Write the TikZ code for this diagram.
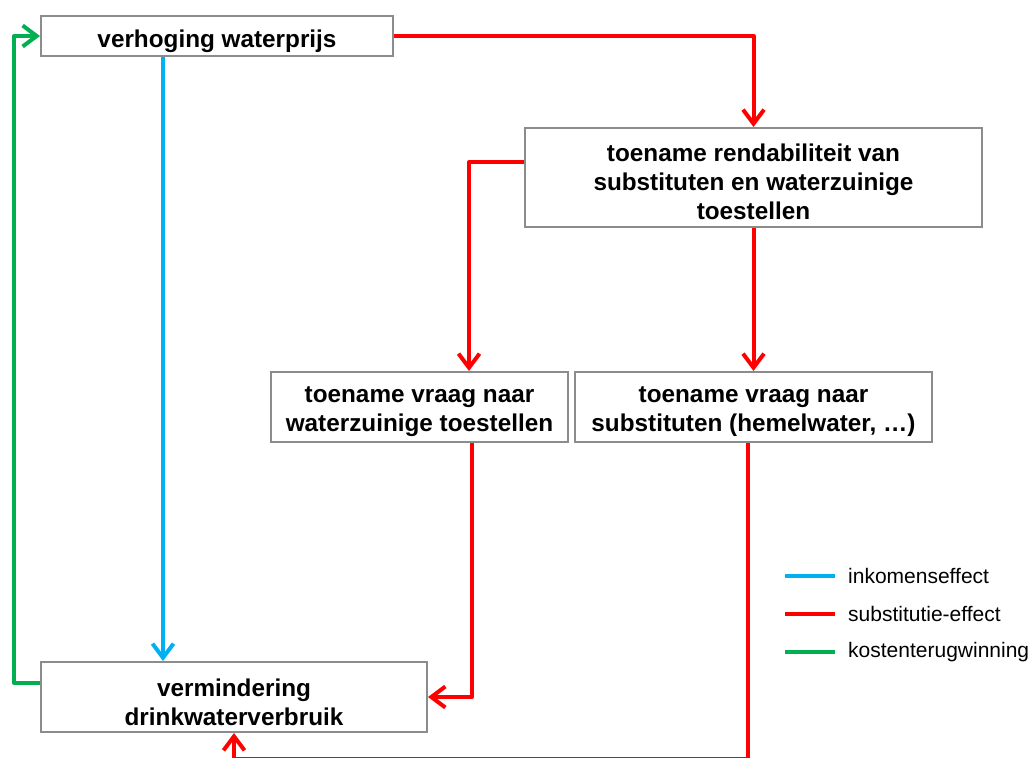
\documentclass[tikz,border=0pt]{standalone}
\usepackage{fontspec}
\setmainfont{Liberation Sans}
\usetikzlibrary{arrows.meta,calc}
\definecolor{effred}{RGB}{255,0,0}
\definecolor{effblue}{RGB}{0,176,240}
\definecolor{effgreen}{RGB}{0,176,80}
\definecolor{boxgray}{RGB}{140,140,140}
\tikzset{
  box/.style={draw=boxgray, line width=2pt, fill=white, inner sep=0pt},
  boxtxt/.style={align=center, inner sep=0pt,
    font=\fontsize{24.3}{29}\selectfont\bfseries},
  conn/.style={line width=4pt, line join=round,
    -{Straight Barb[length=14pt,width=21pt,line width=4pt]}},
  plain/.style={line width=4pt, line join=round},
  legtext/.style={anchor=west, inner sep=0pt, font=\fontsize{21}{25}\selectfont},
}
\begin{document}
\begin{tikzpicture}[x=1pt,y=-1pt]
\useasboundingbox (0,0) rectangle (1029,758);
\node[box, minimum width=352pt, minimum height=40pt] (b1) at (217,36) {};
\node[box, minimum width=457pt, minimum height=99pt] (b2) at (753.5,177.5) {};
\node[box, minimum width=297pt, minimum height=70pt] (b3) at (419.5,407) {};
\node[box, minimum width=357pt, minimum height=70pt] (b4) at (753.5,407) {};
\node[box, minimum width=386pt, minimum height=70pt] (b5) at (234,697) {};

\node[boxtxt] (b1t) at ($(b1.center)+(0,5)$) {verhoging waterprijs};
\node[boxtxt] (b2t) at ($(b2.center)+(0,4)$) {toename rendabiliteit van\\substituten en waterzuinige\\toestellen};
\node[boxtxt] (b3t) at ($(b3.center)+(0,5)$) {toename vraag naar\\waterzuinige toestellen};
\node[boxtxt] (b4t) at ($(b4.center)+(0,5)$) {toename vraag naar\\substituten (hemelwater, …)};
\node[boxtxt] (b5t) at ($(b5.center)+(0,5)$) {vermindering\\drinkwaterverbruik};

\coordinate (gc) at (14,36);
\coordinate (botc) at (234,759);

% red: substitution effect
\draw[conn, effred] (b1.east) -| (b2.north);
\draw[conn, effred] ([yshift=15.5pt]b2.west) -| ([xshift=49.5pt]b3.north);
\draw[conn, effred] (b2.south) -- (b4.north);
\draw[conn, effred] ([xshift=52.5pt]b3.south) |- (b5.east);
\draw[conn, effred] ([xshift=-5.5pt]b4.south) |- (botc) -- (b5.south);
% blue: income effect
\draw[conn, effblue] ([xshift=-54pt]b1.south) -- ([xshift=-71pt]b5.north);
% green: cost recovery
\draw[conn, effgreen] ([yshift=14pt]b5.west) -| (gc) -- (b1.west);

% legend
\coordinate (l1a) at (785,576); \coordinate (l1b) at (835,576);
\coordinate (l2a) at (785,614); \coordinate (l2b) at (835,614);
\coordinate (l3a) at (785,652); \coordinate (l3b) at (835,652);
\draw[plain, effblue] (l1a) -- (l1b);
\draw[plain, effred] (l2a) -- (l2b);
\draw[plain, effgreen] (l3a) -- (l3b);
\node[legtext] (t1) at (848,576) {inkomenseffect};
\node[legtext] (t2) at (848,614) {substitutie-effect};
\node[legtext] (t3) at (848,652) {kostenterugwinning};
\end{tikzpicture}
\end{document}
